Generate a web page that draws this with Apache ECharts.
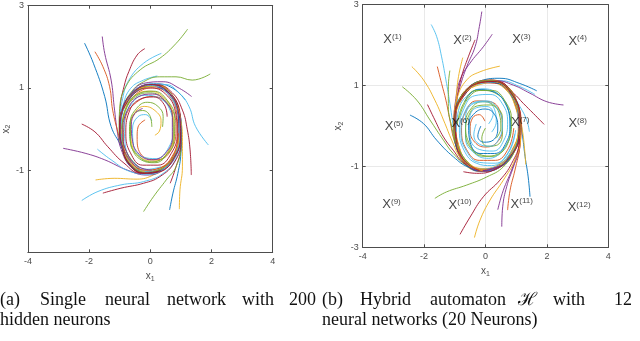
<!DOCTYPE html>
<html>
<head>
<meta charset="utf-8">
<script src="https://cdn.jsdelivr.net/npm/echarts@6/dist/echarts.min.js"></script>
<style>
  html, body { margin: 0; padding: 0; background: #fff; }
  #main { width: 640px; height: 341px; }
</style>
</head>
<body>
<div id="main"></div>
<script>
  // MATLAB default line colours
  const palette = ['#0072BD', '#D95319', '#EDB120', '#7E2F8E', '#77AC30', '#4DBEEE', '#A2142F'];

  // (a) single network: trajectories starting outside the cycle
  const trajA_outer = [
    [[-2.15,2.09],[-1.86,1.6],[-1.49,0.79],[-1.28,0.06],[-0.95,-0.42],[-0.68,-0.89],[-0.2,-1.05],[0.3,-1.0],[0.75,-0.7],[0.95,-0.2],[0.92,0.35],[0.65,0.85],[0.15,1.05],[-0.4,0.95],[-0.8,0.6],[-0.97,0.1],[-0.9,-0.4]],
    [[-1.57,2.25],[-1.49,1.84],[-1.28,1.19],[-1.18,0.54],[-1.07,-0.1],[-0.95,-0.5],[-0.66,-0.9],[-0.21,-1.08],[0.31,-1.02],[0.77,-0.72],[0.97,-0.2],[0.94,0.36],[0.66,0.87],[0.15,1.07],[-0.41,0.97],[-0.82,0.61],[-0.99,0.1]],
    [[-1.81,1.88],[-1.55,1.52],[-1.33,1.03],[-1.23,0.46],[-1.05,-0.1],[-0.9,-0.5],[-0.62,-0.83],[-0.19,-1.0],[0.29,-0.95],[0.71,-0.67],[0.9,-0.19],[0.87,0.33],[0.62,0.81],[0.14,1.0],[-0.38,0.9],[-0.76,0.57]],
    [[-0.18,1.955],[-0.43,1.8],[-0.7,1.4],[-0.86,1.03],[-0.98,0.55],[-1.0,0.1],[-0.93,-0.4],[-0.67,-0.87],[-0.2,-1.07],[0.31,-1.02],[0.77,-0.72],[0.97,-0.2],[0.94,0.36],[0.66,0.87],[0.15,1.07],[-0.4,0.97],[-0.8,0.6]],
    [[0.36,1.84],[-0.22,1.6],[-0.7,1.19],[-0.9,0.75],[-0.99,0.2],[-0.92,-0.38],[-0.64,-0.84],[-0.2,-1.03],[0.3,-0.98],[0.74,-0.69],[0.94,-0.2],[0.91,0.35],[0.64,0.84],[0.15,1.04],[-0.39,0.94],[-0.78,0.59]],
    [[1.22,2.43],[0.84,2.08],[0.31,1.72],[-0.33,1.44],[-0.8,1.03],[-1.0,0.5],[-1.02,0.0],[-0.93,-0.45],[-0.66,-0.88],[-0.2,-1.07],[0.31,-1.01],[0.76,-0.71],[0.96,-0.2],[0.93,0.35],[0.66,0.86],[0.15,1.06],[-0.4,0.96]],
    [[0.23,1.29],[-0.22,1.19],[-0.64,0.99],[-0.88,0.6],[-0.98,0.1],[-0.91,-0.41],[-0.66,-0.86],[-0.2,-1.06],[0.3,-1.01],[0.76,-0.71],[0.96,-0.2],[0.93,0.35],[0.66,0.86],[0.15,1.06]],
    [[1.96,1.34],[1.37,1.19],[0.84,1.27],[0.31,1.27],[-0.22,1.15],[-0.62,0.9],[-0.9,0.5],[-1.0,0.0],[-0.92,-0.45],[-0.66,-0.88],[-0.2,-1.06],[0.3,-1.0],[0.75,-0.7],[0.95,-0.2],[0.92,0.35],[0.65,0.85]],
    [[1.35,0.79],[0.95,0.99],[0.42,1.15],[-0.22,1.11],[-0.64,0.85],[-0.92,0.45],[-0.99,-0.05],[-0.88,-0.5],[-0.62,-0.87],[-0.19,-1.04],[0.3,-0.99],[0.74,-0.69],[0.94,-0.2],[0.91,0.34],[0.64,0.84],[0.15,1.04]],
    [[1.14,0.71],[0.74,0.99],[0.2,1.1],[-0.4,1.0],[-0.82,0.62],[-0.99,0.1],[-0.92,-0.41],[-0.66,-0.86],[-0.2,-1.06],[0.3,-1.0],[0.75,-0.7],[0.95,-0.2],[0.92,0.35],[0.65,0.85],[0.15,1.05]],
    [[1.9,-0.39],[1.48,0.06],[1.27,0.54],[0.95,0.87],[0.5,1.08],[-0.1,1.06],[-0.6,0.82],[-0.92,0.35],[-0.97,-0.15],[-0.82,-0.6],[-0.45,-0.97],[0.05,-1.06],[0.55,-0.88],[0.88,-0.45],[0.96,0.1],[0.8,0.62],[0.4,0.98]],
    [[1.34,-1.12],[1.3,-0.51],[1.21,-0.02],[1.05,0.46],[0.72,0.88],[0.2,1.08],[-0.4,0.98],[-0.83,0.62],[-1.0,0.1],[-0.93,-0.42],[-0.67,-0.88],[-0.2,-1.08],[0.31,-1.02],[0.77,-0.72],[0.97,-0.2],[0.94,0.36],[0.66,0.87]],
    [[0.65,-1.32],[0.84,-0.92],[1.0,-0.43],[1.0,0.1],[0.85,0.6],[0.45,0.98],[-0.1,1.07],[-0.6,0.85],[-0.93,0.4],[-0.98,-0.1],[-0.84,-0.58],[-0.46,-0.98],[0.05,-1.07],[0.55,-0.89],[0.9,-0.45],[0.98,0.1]],
    [[0.63,-1.97],[0.74,-1.56],[0.9,-1.08],[1.0,-0.59],[1.02,-0.05],[0.9,0.5],[0.55,0.93],[0.0,1.08],[-0.55,0.88],[-0.92,0.42],[-0.99,-0.1],[-0.85,-0.6],[-0.46,-0.99],[0.05,-1.07],[0.55,-0.9],[0.9,-0.45]],
    [[0.95,-1.95],[0.97,-1.48],[1.05,-0.92],[1.05,-0.3],[0.97,0.3],[0.7,0.85],[0.15,1.07],[-0.42,0.96],[-0.82,0.6],[-0.98,0.08],[-0.9,-0.42],[-0.64,-0.86],[-0.19,-1.05],[0.3,-0.99],[0.74,-0.7],[0.94,-0.2]],
    [[-0.22,-2.01],[0.1,-1.65],[0.52,-1.24],[0.84,-0.92],[1.0,-0.4],[0.98,0.2],[0.75,0.75],[0.25,1.06],[-0.35,0.98],[-0.8,0.62],[-0.98,0.1],[-0.9,-0.42],[-0.64,-0.86],[-0.19,-1.05],[0.3,-0.99],[0.75,-0.69]],
    [[-2.24,-1.74],[-1.71,-1.52],[-0.96,-1.36],[-0.22,-1.28],[0.42,-1.08],[0.85,-0.7],[1.0,-0.15],[0.93,0.4],[0.6,0.9],[0.05,1.08],[-0.5,0.92],[-0.88,0.5],[-0.98,-0.05],[-0.83,-0.58],[-0.42,-0.98],[0.1,-1.05]],
    [[-1.55,-1.56],[-0.96,-1.44],[-0.22,-1.32],[0.31,-1.16],[0.78,-0.82],[1.0,-0.3],[0.98,0.28],[0.7,0.84],[0.15,1.07],[-0.42,0.97],[-0.84,0.6],[-1.0,0.08],[-0.92,-0.44],[-0.64,-0.88],[-0.18,-1.07],[0.32,-1.02]],
    [[-1.79,-1.24],[-1.18,-1.2],[-0.43,-1.22],[0.1,-1.12],[0.6,-0.88],[0.92,-0.42],[0.97,0.15],[0.78,0.7],[0.3,1.04],[-0.3,1.0],[-0.78,0.65],[-0.97,0.12],[-0.9,-0.4],[-0.62,-0.86],[-0.18,-1.04]],
    [[-2.85,-0.47],[-2.13,-0.59],[-1.49,-0.75],[-0.75,-1.0],[-0.11,-1.12],[0.45,-0.98],[0.85,-0.62],[0.98,-0.05],[0.88,0.5],[0.5,0.95],[-0.05,1.07],[-0.58,0.86],[-0.92,0.42],[-0.98,-0.1],[-0.8,-0.62],[-0.38,-0.98]],
    [[-1.73,-0.49],[-1.28,-0.75],[-0.64,-1.04],[-0.05,-1.1],[0.48,-0.95],[0.86,-0.58],[0.97,0.0],[0.86,0.55],[0.45,0.98],[-0.12,1.06],[-0.64,0.83],[-0.95,0.35],[-0.95,-0.2],[-0.72,-0.7],[-0.28,-1.0]],
    [[-2.24,0.12],[-1.81,-0.07],[-1.39,-0.43],[-0.86,-0.83],[-0.3,-1.08],[0.3,-1.04],[0.78,-0.7],[0.99,-0.15],[0.92,0.42],[0.58,0.9],[0.02,1.08],[-0.55,0.9],[-0.92,0.45],[-0.99,-0.1],[-0.82,-0.6]]
  ];
  // (a) trajectories starting inside the cycle
  const trajA_inner = [
    [[-0.17,0.22],[-0.4,0.05],[-0.43,-0.19],[-0.33,-0.59],[0.2,-0.75],[0.68,-0.51],[0.84,0.06],[0.63,0.54],[0.1,0.79],[-0.45,0.65],[-0.82,0.25],[-0.88,-0.3],[-0.62,-0.8],[-0.15,-1.0],[0.32,-0.95],[0.75,-0.65],[0.92,-0.1]],
    [[0.05,0.2],[-0.15,0.35],[-0.4,0.3],[-0.58,0.0],[-0.55,-0.4],[-0.25,-0.68],[0.2,-0.72],[0.6,-0.45],[0.75,0.0],[0.65,0.45],[0.3,0.75],[-0.2,0.82],[-0.62,0.6],[-0.85,0.15],[-0.82,-0.38],[-0.55,-0.8],[-0.1,-0.98],[0.35,-0.92]],
    [[0.05,0.05],[0.0,0.3],[-0.25,0.45],[-0.55,0.35],[-0.68,0.0],[-0.6,-0.45],[-0.3,-0.75],[0.15,-0.82],[0.55,-0.6],[0.75,-0.15],[0.72,0.35],[0.45,0.72],[0.0,0.88],[-0.48,0.78],[-0.82,0.42],[-0.92,-0.1],[-0.75,-0.6],[-0.35,-0.95]],
    [[0.15,-0.15],[0.3,-0.05],[0.35,0.2],[0.15,0.45],[-0.2,0.55],[-0.5,0.4],[-0.65,0.05],[-0.6,-0.38],[-0.3,-0.7],[0.15,-0.78],[0.58,-0.55],[0.78,-0.1],[0.72,0.4],[0.42,0.78],[-0.05,0.92],[-0.52,0.8],[-0.85,0.4],[-0.93,-0.12]],
    [[0.4,0.05],[0.42,0.3],[0.25,0.55],[-0.1,0.65],[-0.45,0.5],[-0.65,0.15],[-0.65,-0.3],[-0.4,-0.65],[0.05,-0.8],[0.5,-0.65],[0.78,-0.25],[0.8,0.25],[0.55,0.7],[0.1,0.92],[-0.4,0.85],[-0.8,0.5],[-0.93,0.0]],
    [[-0.25,0.5],[-0.5,0.38],[-0.62,0.1],[-0.58,-0.3],[-0.35,-0.62],[0.05,-0.75],[0.48,-0.6],[0.72,-0.2],[0.72,0.28],[0.5,0.66],[0.08,0.85],[-0.4,0.78],[-0.75,0.45],[-0.9,-0.05],[-0.78,-0.55],[-0.42,-0.9],[0.05,-1.0]],
    [[0.55,0.3],[0.45,0.6],[0.1,0.78],[-0.35,0.72],[-0.7,0.4],[-0.8,-0.1],[-0.65,-0.58],[-0.25,-0.88],[0.25,-0.88],[0.68,-0.6],[0.88,-0.1],[0.82,0.42],[0.5,0.85],[0.0,1.0],[-0.5,0.88],[-0.88,0.48]]
  ];

  // (b) hybrid automaton: trajectories starting outside the cycle
  const trajB_outer = [
    [[-0.12,2.83],[-0.2,2.46],[-0.34,1.96],[-0.61,1.47],[-0.83,0.97],[-0.98,0.5],[-1.02,0.0],[-0.92,-0.5],[-0.62,-0.93],[-0.1,-1.1],[0.46,-1.0],[0.92,-0.62],[1.12,-0.05],[1.02,0.5],[0.66,0.97],[0.15,1.12],[-0.45,1.0]],
    [[0.22,2.27],[-0.07,1.96],[-0.51,1.55],[-0.83,1.14],[-0.98,0.6],[-1.03,0.05],[-0.93,-0.5],[-0.62,-0.95],[-0.1,-1.11],[0.46,-1.01],[0.93,-0.62],[1.13,-0.05],[1.03,0.52],[0.67,0.98],[0.15,1.13]],
    [[-0.34,2.13],[-0.56,1.71],[-0.78,1.22],[-0.92,0.7],[-0.98,0.1],[-0.88,-0.48],[-0.58,-0.9],[-0.1,-1.06],[0.44,-0.96],[0.88,-0.58],[1.08,-0.05],[0.98,0.49],[0.64,0.93],[0.15,1.08],[-0.44,0.96],[-0.83,0.58]],
    [[-1.77,2.51],[-1.59,2.21],[-1.43,1.71],[-1.29,1.14],[-1.16,0.56],[-1.05,-0.02],[-0.95,-0.52],[-0.64,-0.97],[-0.1,-1.13],[0.47,-1.02],[0.94,-0.63],[1.15,-0.05],[1.05,0.52],[0.68,1.0],[0.15,1.15]],
    [[-0.74,1.69],[-0.88,1.22],[-0.95,0.7],[-0.97,0.1],[-0.87,-0.48],[-0.58,-0.89],[-0.1,-1.05],[0.44,-0.95],[0.87,-0.58],[1.07,-0.05],[0.97,0.48],[0.63,0.92],[0.15,1.07],[-0.44,0.95]],
    [[-1.57,1.47],[-1.43,1.05],[-1.29,0.64],[-1.16,0.15],[-1.0,-0.4],[-0.7,-0.9],[-0.15,-1.12],[0.45,-1.03],[0.94,-0.64],[1.15,-0.05],[1.05,0.53],[0.68,0.99],[0.15,1.14],[-0.45,1.01],[-0.86,0.62]],
    [[-1.16,1.37],[-1.21,0.97],[-1.21,0.48],[-1.1,-0.02],[-0.95,-0.5],[-0.64,-0.95],[-0.1,-1.12],[0.46,-1.01],[0.92,-0.62],[1.12,-0.05],[1.02,0.51],[0.66,0.97],[0.15,1.12],[-0.45,1.0]],
    [[-2.4,1.47],[-2.02,1.14],[-1.65,0.64],[-1.32,0.06],[-1.1,-0.35],[-0.8,-0.8],[-0.35,-1.08],[0.2,-1.08],[0.7,-0.82],[1.05,-0.35],[1.08,0.2],[0.85,0.75],[0.4,1.08],[-0.18,1.08],[-0.68,0.8],[-0.97,0.3]],
    [[-2.71,0.97],[-2.24,0.64],[-1.81,0.15],[-1.37,-0.35],[-1.05,-0.68],[-0.6,-0.98],[-0.05,-1.1],[0.5,-0.98],[0.93,-0.6],[1.12,-0.02],[1.0,0.55],[0.62,0.98],[0.08,1.12],[-0.5,0.98],[-0.9,0.58]],
    [[-1.89,0.53],[-1.65,0.15],[-1.37,-0.27],[-1.05,-0.6],[-0.7,-0.92],[-0.15,-1.1],[0.42,-1.0],[0.9,-0.62],[1.1,-0.05],[1.0,0.5],[0.64,0.96],[0.12,1.1],[-0.47,0.97],[-0.87,0.6],[-1.01,0.05]],
    [[-2.46,0.27],[-2.02,0.06],[-1.59,-0.35],[-1.05,-0.76],[-0.55,-1.02],[0.0,-1.1],[0.52,-0.96],[0.94,-0.58],[1.12,0.0],[1.0,0.55],[0.6,0.98],[0.05,1.12],[-0.52,0.96],[-0.9,0.55],[-1.02,0.0]],
    [[0.47,1.48],[-0.18,1.34],[-0.61,1.14],[-0.92,0.7],[-1.02,0.15],[-0.93,-0.45],[-0.62,-0.92],[-0.1,-1.09],[0.45,-0.99],[0.9,-0.6],[1.1,-0.05],[1.0,0.5],[0.65,0.96]],
    [[1.67,0.87],[1.12,1.05],[0.47,1.18],[-0.15,1.12],[-0.68,0.85],[-0.98,0.35],[-1.0,-0.25],[-0.75,-0.8],[-0.25,-1.1],[0.3,-1.05],[0.8,-0.72],[1.1,-0.2],[1.07,0.38],[0.75,0.9],[0.25,1.12]],
    [[1.61,0.78],[1.1,0.98],[0.5,1.12],[-0.12,1.1],[-0.65,0.85],[-0.96,0.35],[-0.98,-0.25],[-0.73,-0.78],[-0.24,-1.07],[0.3,-1.02],[0.78,-0.7],[1.07,-0.2],[1.05,0.37],[0.73,0.88]],
    [[2.54,0.52],[2.0,0.6],[1.45,0.81],[0.91,1.01],[0.35,1.12],[-0.25,1.06],[-0.75,0.75],[-1.0,0.2],[-0.95,-0.4],[-0.65,-0.92],[-0.1,-1.12],[0.46,-1.02],[0.93,-0.63],[1.14,-0.05],[1.04,0.52],[0.68,0.98]],
    [[1.91,0.04],[1.56,0.31],[1.23,0.56],[0.91,0.81],[0.45,1.05],[-0.15,1.07],[-0.65,0.8],[-0.96,0.3],[-0.97,-0.3],[-0.7,-0.83],[-0.2,-1.08],[0.36,-1.02],[0.85,-0.68],[1.1,-0.12],[1.05,0.45],[0.72,0.93]],
    [[1.43,-0.14],[1.34,0.15],[1.12,0.48],[0.8,0.85],[0.3,1.08],[-0.3,1.02],[-0.78,0.7],[-1.0,0.15],[-0.92,-0.45],[-0.6,-0.92],[-0.08,-1.1],[0.46,-1.0],[0.92,-0.6],[1.12,-0.05]],
    [[1.45,-1.75],[1.39,-1.26],[1.29,-0.76],[1.21,-0.27],[1.12,0.2],[0.9,0.68],[0.45,1.05],[-0.15,1.1],[-0.65,0.82],[-0.98,0.32],[-0.98,-0.28],[-0.7,-0.84],[-0.18,-1.1],[0.4,-1.03],[0.88,-0.68],[1.12,-0.12]],
    [[1.31,-0.95],[1.27,-0.55],[1.2,-0.1],[1.06,0.4],[0.72,0.9],[0.2,1.1],[-0.4,0.98],[-0.84,0.6],[-1.0,0.05],[-0.9,-0.5],[-0.58,-0.92],[-0.08,-1.08],[0.46,-0.98],[0.9,-0.6],[1.1,-0.05]],
    [[0.53,-2.49],[0.56,-2.0],[0.69,-1.5],[0.91,-1.01],[1.12,-0.51],[1.15,0.05],[1.02,0.55],[0.66,0.98],[0.12,1.12],[-0.48,0.98],[-0.88,0.58],[-1.02,0.02],[-0.9,-0.52],[-0.58,-0.95],[-0.05,-1.1],[0.5,-0.98]],
    [[0.4,-2.07],[0.58,-1.59],[0.85,-1.09],[1.08,-0.55],[1.14,0.0],[1.03,0.52],[0.67,0.98],[0.13,1.12],[-0.47,0.99],[-0.87,0.6],[-1.02,0.04],[-0.91,-0.51],[-0.6,-0.94],[-0.08,-1.1],[0.47,-0.99]],
    [[0.72,-2.08],[0.8,-1.59],[0.96,-1.09],[1.12,-0.5],[1.16,0.05],[1.04,0.56],[0.68,1.0],[0.12,1.13],[-0.47,1.0],[-0.88,0.6],[-1.03,0.03],[-0.92,-0.52],[-0.6,-0.95],[-0.08,-1.11]],
    [[-0.36,-2.76],[-0.18,-2.33],[0.15,-1.83],[0.58,-1.34],[0.96,-0.84],[1.14,-0.3],[1.1,0.3],[0.82,0.82],[0.3,1.1],[-0.3,1.05],[-0.8,0.7],[-1.02,0.15],[-0.94,-0.45],[-0.62,-0.93],[-0.1,-1.1]],
    [[-0.83,-2.68],[-0.5,-2.25],[-0.07,-1.75],[0.47,-1.34],[0.85,-0.93],[1.1,-0.4],[1.13,0.2],[0.9,0.75],[0.4,1.1],[-0.2,1.08],[-0.72,0.78],[-1.0,0.25],[-0.97,-0.35],[-0.7,-0.85],[-0.2,-1.1]],
    [[-1.65,-1.79],[-1.27,-1.63],[-0.61,-1.46],[0.04,-1.26],[0.58,-1.01],[0.98,-0.55],[1.12,0.05],[1.0,0.6],[0.6,1.02],[0.05,1.12],[-0.52,0.96],[-0.92,0.52],[-1.02,-0.05],[-0.85,-0.6],[-0.45,-1.0]],
    [[-0.72,-1.13],[-0.29,-1.17],[0.26,-1.09],[0.75,-0.8],[1.08,-0.3],[1.1,0.3],[0.82,0.82],[0.3,1.1],[-0.3,1.04],[-0.78,0.7],[-1.0,0.15],[-0.92,-0.45]]
  ];
  // (b) trajectories starting inside the cycle
  const trajB_inner = [
    [[-0.02,0.12],[-0.2,0.28],[-0.42,0.2],[-0.5,-0.1],[-0.35,-0.4],[0.0,-0.52],[0.38,-0.4],[0.55,-0.05],[0.48,0.35],[0.15,0.6],[-0.3,0.62],[-0.65,0.35],[-0.78,-0.1],[-0.62,-0.58],[-0.2,-0.85],[0.32,-0.85],[0.75,-0.55],[0.92,-0.05]],
    [[0.0,-0.05],[-0.12,-0.3],[0.05,-0.5],[0.35,-0.48],[0.55,-0.2],[0.55,0.2],[0.3,0.5],[-0.1,0.6],[-0.48,0.42],[-0.65,0.05],[-0.55,-0.4],[-0.2,-0.7],[0.25,-0.75],[0.65,-0.5],[0.82,-0.05],[0.72,0.45],[0.35,0.8],[-0.15,0.88],[-0.6,0.65],[-0.85,0.2]],
    [[0.1,0.05],[0.25,0.3],[0.05,0.48],[-0.3,0.45],[-0.52,0.15],[-0.5,-0.28],[-0.2,-0.58],[0.25,-0.62],[0.6,-0.35],[0.72,0.1],[0.55,0.55],[0.15,0.78],[-0.35,0.75],[-0.72,0.4],[-0.85,-0.1],[-0.7,-0.6],[-0.3,-0.92],[0.2,-0.98],[0.7,-0.7],[0.95,-0.2]],
    [[0.2,-0.15],[0.35,0.1],[0.3,0.4],[0.0,0.6],[-0.4,0.55],[-0.65,0.2],[-0.65,-0.3],[-0.35,-0.68],[0.1,-0.8],[0.55,-0.6],[0.8,-0.15],[0.75,0.38],[0.42,0.78],[-0.08,0.92],[-0.55,0.78],[-0.88,0.38],[-0.95,-0.15]],
    [[-0.15,0.0],[-0.25,-0.25],[-0.05,-0.4],[0.25,-0.35],[0.4,-0.05],[0.3,0.28],[0.0,0.42],[-0.35,0.32],[-0.55,0.0],[-0.5,-0.4],[-0.18,-0.68],[0.3,-0.68],[0.68,-0.4],[0.8,0.05],[0.65,0.55],[0.25,0.85],[-0.25,0.9],[-0.68,0.6]],
    [[0.35,-0.3],[0.5,-0.05],[0.45,0.3],[0.15,0.52],[-0.25,0.5],[-0.55,0.25],[-0.65,-0.15],[-0.48,-0.55],[-0.05,-0.75],[0.4,-0.7],[0.75,-0.38],[0.85,0.12],[0.65,0.6],[0.22,0.88],[-0.3,0.88],[-0.72,0.55],[-0.92,0.05]],
    [[-0.3,0.05],[-0.38,-0.22],[-0.2,-0.45],[0.15,-0.5],[0.45,-0.3],[0.55,0.05],[0.4,0.42],[0.05,0.62],[-0.38,0.58],[-0.7,0.3],[-0.8,-0.15],[-0.62,-0.62],[-0.2,-0.9],[0.32,-0.92],[0.78,-0.62],[0.98,-0.1]]
  ];

  // region labels X^(i) in panel (b)
  const regionNames = ['(1)', '(2)', '(3)', '(4)', '(5)', '(6)', '(7)', '(8)', '(9)', '(10)', '(11)', '(12)'];
  const regionX = [-3.03, -0.75, 1.17, 3.0, -2.98, -0.81, 1.13, 3.0, -3.06, -0.83, 1.18, 3.05];
  const regionY = [2.14, 2.11, 2.13, 2.10, -0.02, 0.06, 0.09, 0.06, -1.94, -1.96, -1.93, -2.02];

  // colour index of each trajectory (style, kept apart from the values)
  const colA_outer = [0, 3, 1, 6, 5, 4, 5, 4, 3, 0, 5, 6, 6, 0, 2, 4, 5, 6, 2, 3, 5, 6];
  const colA_inner = [1, 5, 4, 2, 4, 3, 6];
  const colB_outer = [3, 3, 6, 5, 2, 1, 4, 2, 4, 6, 0, 2, 0, 5, 3, 6, 5, 0, 2, 3, 3, 1, 2, 6, 4, 6];
  const colB_inner = [1, 4, 5, 5, 0, 4, 5];

  const axisFont = 'Liberation Sans';
  const axisColor = '#4d4d4d';

  function lines(trajs, cols, k) {
    return trajs.map((t, i) => ({
      type: 'line',
      xAxisIndex: k,
      yAxisIndex: k,
      data: t,
      symbol: 'none',
      smooth: 0.45,
      silent: true,
      lineStyle: { width: 1, color: palette[cols[i] % palette.length], opacity: 0.9 }
    }));
  }

  const lineSty = { onZero: false, lineStyle: { color: axisColor, width: 1 } };
  const tickSty = { inside: true, length: 3, lineStyle: { color: axisColor } };

  function xAxes(grid, showGrid) {
    return [
      {
        gridIndex: grid, type: 'value', min: -4, max: 4, interval: 2,
        name: '{a|x}{b|1}', nameLocation: 'middle', nameGap: 16,
        nameTextStyle: { rich: {
          a: { fontSize: 10, fontFamily: axisFont, color: axisColor, lineHeight: 12 },
          b: { fontSize: 7, fontFamily: axisFont, color: axisColor, lineHeight: 6, verticalAlign: 'bottom' }
        } },
        axisLine: lineSty,
        axisTick: tickSty,
        axisLabel: { fontSize: 9, fontFamily: axisFont, color: axisColor, margin: 5, showMinLabel: true, showMaxLabel: true },
        splitLine: { show: showGrid, lineStyle: { color: '#e9e9e9', width: 1 } }
      },
      {
        gridIndex: grid, type: 'value', position: 'top', min: -4, max: 4, interval: 2,
        axisLine: lineSty, axisTick: tickSty,
        axisLabel: { show: false }, splitLine: { show: false }
      }
    ];
  }

  function yAxes(grid, showGrid, gap, hideBottom) {
    return [
      {
        gridIndex: grid, type: 'value', min: -3, max: 3, interval: 2,
        name: '{a|x}{b|2}', nameLocation: 'middle', nameGap: gap,
        nameTextStyle: { rich: {
          a: { fontSize: 10, fontFamily: axisFont, color: axisColor, lineHeight: 12 },
          b: { fontSize: 7, fontFamily: axisFont, color: axisColor, lineHeight: 6, verticalAlign: 'bottom' }
        } },
        axisLine: lineSty,
        axisTick: tickSty,
        axisLabel: {
          fontSize: 9, fontFamily: axisFont, color: axisColor, margin: 4, showMinLabel: true, showMaxLabel: true,
          formatter: v => (hideBottom && v === -3) ? '' : String(v)
        },
        splitLine: { show: showGrid, lineStyle: { color: '#e9e9e9', width: 1 } }
      },
      {
        gridIndex: grid, type: 'value', position: 'right', min: -3, max: 3, interval: 2,
        axisLine: lineSty, axisTick: tickSty,
        axisLabel: { show: false }, splitLine: { show: false }
      }
    ];
  }

  const serif = 'Liberation Serif';
  function word(text, x, y) {
    return { type: 'text', x: x, y: y, silent: true,
      style: { text: text, fontSize: 18, fontFamily: serif, fill: '#111', verticalAlign: 'top' } };
  }

  const chart = echarts.init(document.getElementById('main'), null, { renderer: 'canvas' });

  const series = [].concat(
    lines(trajA_outer, colA_outer, 0),
    lines(trajA_inner, colA_inner, 0),
    lines(trajB_outer, colB_outer, 2),
    lines(trajB_inner, colB_inner, 2),
    [{
      type: 'scatter', xAxisIndex: 2, yAxisIndex: 2, symbolSize: 0, silent: true, z: 10,
      data: regionX.map((x, i) => ({ value: [x, regionY[i]], name: regionNames[i] })),
      label: {
        show: true, position: 'inside',
        formatter: p => '{x|X}{s|' + p.name + '}',
        rich: {
          x: { fontSize: 13, fontFamily: axisFont, color: '#111', lineHeight: 14 },
          s: { fontSize: 8, fontFamily: axisFont, color: '#111', lineHeight: 8, verticalAlign: 'top' }
        }
      }
    }]
  );

  const option = {
    animation: false,
    backgroundColor: '#fff',
    grid: [
      { left: 21.3, top: 5.7, width: 251.4, height: 246.6 },
      { left: 362.7, top: 4.7, width: 245.6, height: 242.6 }
    ],
    xAxis: [].concat(xAxes(0, false), xAxes(1, true)),
    yAxis: [].concat(yAxes(0, false, 6, true), yAxes(1, true, 18, false)),
    series: series,
    graphic: [
      word('(a)', 0, 291), word('Single', 40, 291), word('neural', 105, 291),
      word('network', 167, 291), word('with', 242, 291), word('200', 289, 291),
      word('hidden neurons', 0, 311),
      word('(b)', 322, 291), word('Hybrid', 360, 291), word('automaton', 430, 291),
      { type: 'text', x: 518, y: 291, silent: true,
        style: { text: '\u210B', fontSize: 18, fontFamily: 'DejaVu Serif', fill: '#111', verticalAlign: 'top' } },
      word('with', 553, 291), word('12', 614, 291),
      word('neural networks (20 Neurons)', 322, 311)
    ]
  };

  chart.setOption(option);
</script>
</body>
</html>
